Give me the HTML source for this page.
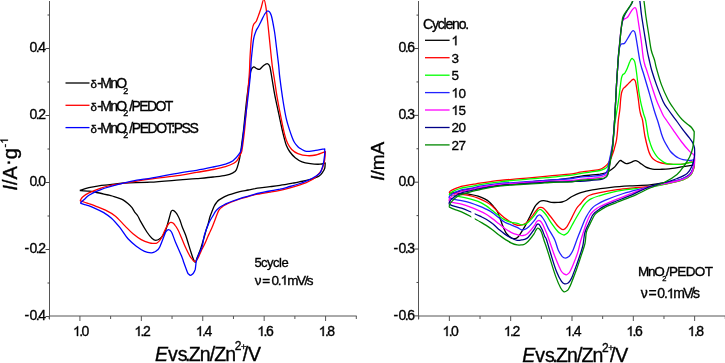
<!DOCTYPE html>
<html><head><meta charset="utf-8"><style>
html,body{margin:0;padding:0;background:#fff;}
svg{display:block;will-change:transform;}
text{font-family:"Liberation Sans",sans-serif;fill:#000;stroke:#000;stroke-width:0.35px;}
.tl{font-size:14px;letter-spacing:-1.5px;}
.ax{stroke:#555;stroke-width:1;}
.axx{stroke:#555;stroke-width:1;}
.tkx{stroke:#555;stroke-width:1;}
.tk{stroke:#444;stroke-width:1;}
.lg{font-size:14px;letter-spacing:-1.2px;}
.h{fill:none;stroke:none;}
.one{fill:#000;stroke:#000;stroke-width:0.35px;}
</style></head><body>
<svg width="725" height="363" viewBox="0 0 725 363">
<line x1="49.50" y1="1.00" x2="49.50" y2="319.50" class="ax"/>
<line x1="49.50" y1="316.00" x2="356.70" y2="316.00" class="axx"/>
<line x1="45.50" y1="48.50" x2="49.50" y2="48.50" class="tk"/>
<line x1="45.50" y1="115.50" x2="49.50" y2="115.50" class="tk"/>
<line x1="45.50" y1="182.50" x2="49.50" y2="182.50" class="tk"/>
<line x1="45.50" y1="249.50" x2="49.50" y2="249.50" class="tk"/>
<line x1="45.50" y1="316.50" x2="49.50" y2="316.50" class="tk"/>
<line x1="47.50" y1="15.00" x2="49.50" y2="15.00" class="tk"/>
<line x1="47.50" y1="82.00" x2="49.50" y2="82.00" class="tk"/>
<line x1="47.50" y1="149.00" x2="49.50" y2="149.00" class="tk"/>
<line x1="47.50" y1="216.00" x2="49.50" y2="216.00" class="tk"/>
<line x1="47.50" y1="283.00" x2="49.50" y2="283.00" class="tk"/>
<line x1="79.91" y1="316.00" x2="79.91" y2="321.00" class="tkx"/>
<line x1="141.33" y1="316.00" x2="141.33" y2="321.00" class="tkx"/>
<line x1="202.75" y1="316.00" x2="202.75" y2="321.00" class="tkx"/>
<line x1="264.17" y1="316.00" x2="264.17" y2="321.00" class="tkx"/>
<line x1="325.59" y1="316.00" x2="325.59" y2="321.00" class="tkx"/>
<line x1="49.20" y1="316.00" x2="49.20" y2="319.00" class="tkx"/>
<line x1="110.62" y1="316.00" x2="110.62" y2="319.00" class="tkx"/>
<line x1="172.04" y1="316.00" x2="172.04" y2="319.00" class="tkx"/>
<line x1="233.46" y1="316.00" x2="233.46" y2="319.00" class="tkx"/>
<line x1="294.88" y1="316.00" x2="294.88" y2="319.00" class="tkx"/>
<line x1="356.30" y1="316.00" x2="356.30" y2="319.00" class="tkx"/>
<line x1="418.50" y1="1.00" x2="418.50" y2="319.50" class="ax"/>
<line x1="418.50" y1="316.00" x2="725.70" y2="316.00" class="axx"/>
<line x1="414.50" y1="48.52" x2="418.50" y2="48.52" class="tk"/>
<line x1="414.50" y1="115.36" x2="418.50" y2="115.36" class="tk"/>
<line x1="414.50" y1="182.20" x2="418.50" y2="182.20" class="tk"/>
<line x1="414.50" y1="249.04" x2="418.50" y2="249.04" class="tk"/>
<line x1="414.50" y1="315.88" x2="418.50" y2="315.88" class="tk"/>
<line x1="416.50" y1="15.10" x2="418.50" y2="15.10" class="tk"/>
<line x1="416.50" y1="81.94" x2="418.50" y2="81.94" class="tk"/>
<line x1="416.50" y1="148.78" x2="418.50" y2="148.78" class="tk"/>
<line x1="416.50" y1="215.62" x2="418.50" y2="215.62" class="tk"/>
<line x1="416.50" y1="282.46" x2="418.50" y2="282.46" class="tk"/>
<line x1="449.36" y1="316.00" x2="449.36" y2="321.00" class="tkx"/>
<line x1="510.68" y1="316.00" x2="510.68" y2="321.00" class="tkx"/>
<line x1="572.00" y1="316.00" x2="572.00" y2="321.00" class="tkx"/>
<line x1="633.32" y1="316.00" x2="633.32" y2="321.00" class="tkx"/>
<line x1="694.64" y1="316.00" x2="694.64" y2="321.00" class="tkx"/>
<line x1="418.70" y1="316.00" x2="418.70" y2="319.00" class="tkx"/>
<line x1="480.02" y1="316.00" x2="480.02" y2="319.00" class="tkx"/>
<line x1="541.34" y1="316.00" x2="541.34" y2="319.00" class="tkx"/>
<line x1="602.66" y1="316.00" x2="602.66" y2="319.00" class="tkx"/>
<line x1="663.98" y1="316.00" x2="663.98" y2="319.00" class="tkx"/>
<line x1="725.30" y1="316.00" x2="725.30" y2="319.00" class="tkx"/>
<defs><clipPath id="cr"><rect x="419" y="1.1" width="306" height="320"/></clipPath></defs>
<g fill="none" stroke-width="1.3" stroke-linejoin="round">
<path d="M79.8,190.5 C81.3,190.0 85.7,188.5 88.9,187.7 C92.1,186.9 95.3,186.4 98.8,185.9 C102.3,185.4 105.7,185.2 110.0,184.7 C114.3,184.2 117.9,183.4 124.6,183.0 C131.3,182.6 140.8,182.7 150.0,182.2 C159.2,181.7 172.2,180.5 180.0,179.9 C187.8,179.3 191.1,179.1 196.6,178.6 C202.1,178.1 208.3,177.6 213.1,177.0 C217.9,176.4 222.2,176.0 225.5,175.3 C228.8,174.6 231.2,173.7 233.0,172.8 C234.8,171.9 235.3,171.7 236.3,169.9 C237.3,168.1 238.1,164.7 238.8,162.0 C239.5,159.3 240.0,156.3 240.5,153.5 C241.0,150.7 241.1,149.0 241.6,145.0 C242.1,141.0 242.8,136.2 243.6,129.5 C244.3,122.8 245.3,112.2 246.1,104.7 C246.9,97.2 247.8,90.4 248.6,84.8 C249.4,79.2 250.0,74.0 250.8,71.0 C251.6,68.0 252.7,67.3 253.6,66.9 C254.5,66.5 255.5,68.1 256.5,68.5 C257.5,68.9 258.4,69.7 259.5,69.3 C260.6,68.9 261.7,67.0 263.0,66.1 C264.3,65.1 266.1,63.5 267.2,63.6 C268.3,63.7 269.0,63.8 269.8,66.5 C270.6,69.2 271.4,75.2 272.2,79.9 C273.0,84.6 273.7,89.3 274.7,94.7 C275.7,100.1 277.2,106.3 278.4,112.1 C279.6,117.9 281.1,125.2 282.1,129.5 C283.1,133.8 283.5,135.4 284.2,138.0 C284.9,140.6 285.3,142.8 286.2,145.0 C287.1,147.2 288.1,149.4 289.6,151.5 C291.1,153.6 293.1,156.0 295.2,157.7 C297.3,159.4 299.5,160.9 302.0,161.9 C304.5,162.9 307.3,163.3 310.3,163.7 C313.3,164.1 317.5,164.3 320.0,164.2 C322.5,164.1 324.3,163.2 325.2,163.0 C325.1,163.8 325.2,166.5 324.8,168.0 C324.4,169.5 323.7,170.8 322.7,172.2 C321.7,173.6 321.1,175.0 318.6,176.3 C316.1,177.6 310.6,179.3 307.5,180.2 C304.4,181.1 302.3,181.2 300.0,181.7 C297.7,182.2 297.1,182.4 293.8,183.0 C290.5,183.6 284.0,184.8 280.0,185.4 C276.0,186.0 273.3,186.3 270.0,186.7 C266.7,187.1 262.5,187.6 260.0,187.9 C257.5,188.2 257.0,188.3 255.0,188.7 C253.0,189.0 250.6,189.5 248.1,190.0 C245.6,190.5 242.6,190.9 239.8,191.6 C237.0,192.3 233.6,193.4 231.5,194.1 C229.4,194.8 228.4,195.0 227.0,195.6 C225.6,196.2 224.6,196.7 223.3,197.4 C222.0,198.1 220.2,199.1 219.1,199.9 C218.0,200.7 217.4,201.4 216.6,202.4 C215.8,203.4 214.9,204.5 214.1,206.2 C213.3,207.9 212.3,210.6 211.6,212.4 C210.9,214.2 210.4,215.2 209.8,217.3 C209.2,219.4 208.5,222.8 207.9,224.8 C207.3,226.8 206.8,227.8 206.3,229.5 C205.8,231.2 205.7,232.0 204.8,235.0 C203.9,238.0 202.1,244.3 201.1,247.4 C200.1,250.5 199.4,251.8 198.8,253.5 C198.2,255.2 197.7,256.1 197.3,257.3 C196.9,258.5 196.5,259.7 196.2,260.5 C195.9,261.3 195.7,262.0 195.4,262.2 C195.1,262.4 194.8,261.9 194.5,261.5 C194.2,261.1 194.0,260.9 193.6,259.8 C193.2,258.7 192.6,257.3 191.8,254.8 C191.0,252.3 189.7,248.2 188.7,244.9 C187.7,241.6 186.7,238.1 185.6,235.0 C184.5,231.9 183.1,229.1 182.1,226.5 C181.1,223.9 180.6,221.6 179.8,219.7 C179.0,217.8 178.2,216.3 177.5,215.0 C176.8,213.7 175.9,212.7 175.3,212.0 C174.7,211.3 174.2,210.9 173.7,210.6 C173.2,210.3 172.8,210.2 172.3,210.4 C171.9,210.6 171.5,210.5 171.0,211.8 C170.5,213.1 170.0,215.4 169.2,218.2 C168.4,221.0 167.0,226.3 166.2,228.8 C165.4,231.3 165.3,231.5 164.4,233.1 C163.5,234.7 161.9,237.1 160.5,238.3 C159.1,239.5 157.2,240.3 155.8,240.3 C154.4,240.3 153.4,239.6 151.9,238.2 C150.4,236.8 148.8,234.9 146.9,232.0 C145.0,229.1 141.8,223.6 140.3,220.9 C138.8,218.2 138.8,217.5 137.8,216.0 C136.8,214.5 135.5,213.2 134.5,211.8 C133.5,210.4 133.1,209.1 132.0,207.7 C130.9,206.3 129.4,204.9 127.9,203.6 C126.4,202.3 124.7,200.9 123.0,199.9 C121.3,198.9 119.8,198.5 118.0,197.8 C116.2,197.2 113.8,196.5 112.2,196.0 C110.6,195.5 110.0,195.4 108.2,195.0 C106.4,194.6 103.8,194.0 101.6,193.5 C99.4,193.0 97.1,192.6 95.0,192.2 C92.9,191.8 91.4,191.5 88.9,191.2 C86.4,190.9 81.3,190.6 79.8,190.5" stroke="#000"/>
<path d="M80.0,200.8 C80.5,200.1 81.4,198.1 82.9,196.8 C84.4,195.5 86.2,194.2 88.9,192.9 C91.6,191.6 95.3,190.1 98.8,188.9 C102.3,187.7 103.6,186.9 110.0,185.6 C116.4,184.3 130.3,182.3 137.0,181.2 C143.7,180.1 142.8,180.0 150.0,179.0 C157.2,178.0 172.2,176.4 180.0,175.3 C187.8,174.2 191.1,173.4 196.6,172.4 C202.1,171.4 208.3,170.5 213.1,169.5 C217.9,168.5 222.1,167.6 225.5,166.6 C228.9,165.6 231.8,164.4 233.8,163.3 C235.8,162.2 236.3,161.5 237.3,160.2 C238.3,158.9 239.0,156.9 239.7,155.5 C240.4,154.1 241.1,153.6 241.7,151.5 C242.2,149.4 242.5,147.1 243.0,143.0 C243.5,138.9 244.2,134.6 244.9,127.0 C245.6,119.4 246.7,106.3 247.4,97.2 C248.2,88.1 249.0,79.0 249.4,72.4 C249.8,65.8 249.7,63.0 250.0,57.8 C250.3,52.6 250.7,46.0 251.1,41.3 C251.5,36.6 251.9,32.4 252.3,29.5 C252.7,26.6 253.0,25.6 253.7,24.2 C254.4,22.8 255.5,22.6 256.3,21.2 C257.1,19.8 257.7,17.6 258.5,15.5 C259.3,13.4 260.1,11.0 261.0,8.3 C261.9,5.6 262.9,-0.6 263.8,-0.6 C264.7,-0.6 265.4,3.7 266.1,8.3 C266.8,12.9 267.5,20.3 268.2,26.8 C268.9,33.3 269.6,41.0 270.3,47.5 C271.0,54.0 271.6,60.6 272.3,66.0 C273.0,71.4 273.7,74.8 274.5,80.0 C275.3,85.2 276.0,91.0 277.1,97.2 C278.2,103.4 279.6,110.9 280.9,117.1 C282.1,123.3 283.5,130.0 284.6,134.4 C285.7,138.8 286.4,140.8 287.6,143.3 C288.8,145.8 290.0,147.8 291.7,149.5 C293.4,151.2 295.3,152.6 297.9,153.6 C300.5,154.6 304.5,155.5 307.5,155.7 C310.5,155.9 312.8,155.7 315.8,155.0 C318.8,154.3 323.8,152.2 325.4,151.6 C325.3,152.5 325.2,155.1 325.0,157.0 C324.8,158.9 324.6,160.9 324.0,163.2 C323.4,165.5 322.6,168.6 321.1,170.9 C319.7,173.2 317.0,175.6 315.3,177.2 C313.6,178.8 312.6,179.4 311.0,180.3 C309.4,181.2 307.8,181.9 306.0,182.7 C304.2,183.4 302.7,184.0 300.0,184.8 C297.3,185.7 293.3,186.9 290.0,187.8 C286.7,188.7 283.3,189.6 280.0,190.3 C276.7,191.0 273.3,191.6 270.0,192.2 C266.7,192.8 262.5,193.4 260.0,193.8 C257.5,194.2 257.0,194.1 255.0,194.6 C253.0,195.1 250.6,195.9 248.1,196.6 C245.6,197.3 242.6,198.1 239.8,199.0 C237.0,199.9 233.6,201.2 231.5,202.0 C229.4,202.8 228.4,203.3 227.0,204.0 C225.6,204.7 224.6,205.1 223.3,206.1 C222.0,207.1 220.2,208.2 219.1,209.8 C218.0,211.4 217.4,213.5 216.6,215.6 C215.8,217.7 214.9,220.2 214.1,222.3 C213.3,224.5 212.4,226.7 211.6,228.5 C210.8,230.3 210.1,231.7 209.5,233.0 C208.9,234.3 208.7,234.7 207.9,236.5 C207.1,238.3 205.9,241.3 204.8,243.7 C203.7,246.1 202.1,249.0 201.1,251.1 C200.1,253.2 199.4,255.2 198.8,256.5 C198.2,257.9 197.9,258.4 197.3,259.2 C196.7,260.0 196.0,261.2 195.4,261.5 C194.8,261.8 194.2,261.4 193.6,261.0 C193.0,260.6 192.6,259.6 192.0,258.8 C191.4,258.0 191.1,258.2 189.9,256.1 C188.7,254.0 186.7,249.9 185.0,246.2 C183.3,242.5 181.2,236.9 179.9,234.0 C178.7,231.1 178.3,230.4 177.5,229.0 C176.7,227.6 176.1,226.6 175.3,225.6 C174.6,224.6 173.8,223.6 173.0,223.0 C172.2,222.4 171.5,222.2 170.8,222.3 C170.1,222.4 169.4,223.0 168.7,223.8 C168.0,224.6 167.4,225.4 166.5,227.0 C165.6,228.6 164.5,231.4 163.5,233.5 C162.5,235.6 161.6,237.9 160.5,239.5 C159.4,241.1 158.2,242.3 157.0,243.0 C155.8,243.7 154.2,243.4 153.0,243.4 C151.8,243.4 151.5,243.5 149.5,242.9 C147.5,242.3 143.9,241.1 141.2,239.6 C138.4,238.1 135.8,236.1 133.0,233.8 C130.2,231.5 127.7,228.6 124.7,225.6 C121.7,222.6 118.1,218.3 114.8,215.7 C111.5,213.1 108.2,211.6 104.9,209.9 C101.6,208.2 97.7,206.9 95.0,205.8 C92.3,204.7 90.3,204.1 88.5,203.5 C86.7,202.9 85.3,202.4 83.9,202.0 C82.5,201.6 80.7,201.0 80.0,200.8" stroke="#f00"/>
<path d="M80.2,202.8 C80.8,202.3 82.5,201.1 83.9,199.8 C85.4,198.6 86.4,196.9 88.9,195.3 C91.4,193.7 95.3,191.8 98.8,190.4 C102.3,189.0 103.6,188.4 110.0,186.7 C116.4,185.0 130.3,181.6 137.0,180.2 C143.7,178.8 142.8,179.5 150.0,178.3 C157.2,177.1 172.2,174.1 180.0,172.8 C187.8,171.5 191.1,171.3 196.6,170.3 C202.1,169.3 208.3,168.0 213.1,167.0 C217.9,166.0 222.2,165.1 225.5,164.1 C228.8,163.1 230.8,162.5 233.0,160.8 C235.2,159.1 237.6,156.2 239.0,154.1 C240.4,152.0 240.7,152.2 241.5,148.5 C242.3,144.8 242.6,139.7 243.6,132.0 C244.6,124.3 246.3,111.5 247.4,102.2 C248.5,92.9 249.7,82.7 250.3,76.0 C250.9,69.3 250.8,66.3 251.1,61.9 C251.4,57.5 251.9,53.5 252.3,49.6 C252.7,45.7 253.1,41.5 253.7,38.5 C254.3,35.5 255.0,33.5 255.8,31.5 C256.6,29.5 257.6,28.2 258.5,26.5 C259.4,24.8 259.9,23.7 261.0,21.5 C262.1,19.3 263.9,15.2 265.1,13.5 C266.3,11.8 267.2,10.7 268.2,11.0 C269.2,11.3 270.3,12.2 271.3,15.5 C272.3,18.8 273.5,25.7 274.4,31.0 C275.3,36.3 275.8,42.0 276.5,47.5 C277.2,53.0 277.9,59.0 278.5,64.0 C279.1,69.0 279.0,71.0 279.8,77.4 C280.6,83.8 282.2,95.7 283.3,102.5 C284.4,109.3 285.2,113.9 286.2,118.3 C287.2,122.7 288.2,125.8 289.2,128.9 C290.2,132.0 291.1,134.7 292.0,137.0 C292.9,139.3 293.5,140.9 294.5,142.5 C295.5,144.1 296.6,145.5 297.9,146.7 C299.1,147.9 300.6,148.7 302.0,149.5 C303.4,150.3 304.1,151.1 306.2,151.3 C308.3,151.5 311.3,151.0 314.4,150.6 C317.5,150.2 323.0,149.1 324.7,148.8 C324.7,149.9 324.9,152.7 324.6,155.4 C324.3,158.1 323.8,162.2 323.0,165.1 C322.2,168.0 321.4,170.9 320.1,172.8 C318.8,174.7 316.8,175.5 315.3,176.5 C313.8,177.5 312.6,178.2 311.0,179.0 C309.4,179.8 307.8,180.4 306.0,181.2 C304.2,181.9 302.7,182.6 300.0,183.5 C297.3,184.4 293.3,185.6 290.0,186.5 C286.7,187.4 283.3,188.4 280.0,189.2 C276.7,189.9 273.3,190.4 270.0,191.0 C266.7,191.6 262.5,192.5 260.0,193.0 C257.5,193.5 257.0,193.6 255.0,194.1 C253.0,194.6 250.6,195.4 248.1,196.2 C245.6,196.9 242.6,197.7 239.8,198.6 C237.0,199.5 233.6,200.7 231.5,201.5 C229.4,202.3 228.4,202.7 227.0,203.3 C225.6,203.9 224.6,204.5 223.3,205.2 C222.0,205.9 220.4,206.7 219.1,207.7 C217.8,208.7 216.5,210.0 215.5,211.3 C214.5,212.7 214.0,214.0 212.9,215.8 C211.8,217.6 210.2,220.2 209.2,222.3 C208.2,224.4 207.5,226.2 206.7,228.5 C205.9,230.8 204.9,233.0 204.2,235.9 C203.5,238.8 202.9,243.8 202.3,246.2 C201.7,248.6 201.1,249.1 200.5,250.5 C199.9,251.9 199.2,253.3 198.6,254.8 C198.0,256.3 197.2,258.2 196.8,259.5 C196.4,260.8 196.3,261.2 196.1,262.3 C195.9,263.4 195.8,264.8 195.7,266.0 C195.5,267.2 195.5,268.4 195.2,269.5 C194.8,270.6 194.1,272.0 193.6,272.8 C193.1,273.6 192.5,274.1 192.0,274.5 C191.5,274.9 191.0,275.3 190.5,275.3 C190.0,275.3 189.3,274.8 188.8,274.3 C188.3,273.8 188.2,274.2 187.4,272.2 C186.6,270.2 184.6,264.8 183.7,262.3 C182.8,259.8 183.5,260.8 182.1,257.4 C180.7,254.0 177.2,246.1 175.4,241.9 C173.6,237.7 172.7,234.1 171.5,232.0 C170.3,229.9 169.4,229.7 168.5,229.6 C167.6,229.5 166.7,230.6 166.0,231.5 C165.3,232.4 165.4,232.8 164.4,235.3 C163.4,237.8 161.1,244.1 160.0,246.5 C158.9,248.9 158.6,248.9 157.7,249.8 C156.8,250.7 155.6,251.5 154.5,252.0 C153.4,252.5 152.8,252.9 151.1,252.8 C149.4,252.7 147.0,252.4 144.5,251.3 C142.0,250.2 139.1,248.3 136.3,246.2 C133.6,244.1 130.8,241.9 128.0,238.8 C125.2,235.7 122.5,230.8 119.8,227.4 C117.0,224.0 114.2,220.7 111.5,218.2 C108.8,215.7 106.0,214.1 103.3,212.4 C100.5,210.8 97.5,209.4 95.0,208.3 C92.5,207.2 90.3,206.3 88.5,205.6 C86.7,204.9 85.3,204.8 83.9,204.3 C82.5,203.8 80.8,203.1 80.2,202.8" stroke="#00f"/>
<g clip-path="url(#cr)"><path d="M449.0,193.5 C450.5,193.2 454.5,192.6 458.0,191.8 C461.5,191.1 465.3,189.9 470.0,189.0 C474.7,188.1 481.0,187.3 486.0,186.6 C491.0,185.9 494.3,185.6 500.0,185.0 C505.7,184.4 513.3,183.7 520.0,183.0 C526.7,182.3 533.3,181.6 540.0,181.0 C546.7,180.4 555.0,179.8 560.0,179.3 C565.0,178.8 566.7,178.6 570.0,178.1 C573.3,177.6 576.7,176.8 580.0,176.3 C583.3,175.8 586.7,175.5 590.0,175.2 C593.3,174.8 597.5,174.5 600.0,174.2 C602.5,173.8 603.5,173.6 605.0,173.1 C606.5,172.6 607.4,172.1 608.9,171.2 C610.4,170.3 612.4,168.9 613.7,167.8 C615.0,166.7 615.7,165.6 616.6,164.5 C617.5,163.4 618.6,161.8 619.3,161.1 C620.0,160.4 620.3,160.4 620.9,160.5 C621.5,160.6 622.0,161.3 622.8,161.8 C623.6,162.3 624.7,163.0 625.5,163.3 C626.3,163.6 626.8,163.7 627.8,163.5 C628.8,163.3 630.4,162.6 631.6,162.1 C632.9,161.6 634.2,160.6 635.3,160.6 C636.4,160.6 637.4,161.2 638.4,161.8 C639.4,162.4 640.1,163.1 641.4,164.0 C642.7,164.9 644.5,166.3 646.0,167.1 C647.5,167.9 649.1,168.2 650.5,168.6 C651.9,169.0 652.7,169.2 654.3,169.3 C655.9,169.4 657.5,169.4 660.0,169.3 C662.5,169.2 665.7,169.2 669.0,168.8 C672.3,168.5 676.8,167.7 680.0,167.2 C683.2,166.7 685.9,166.3 688.3,165.9 C690.7,165.5 693.3,165.2 694.3,165.0 C694.0,165.8 693.4,168.3 692.5,170.0 C691.6,171.7 690.9,173.4 689.0,175.0 C687.1,176.6 684.7,178.3 681.0,179.5 C677.3,180.7 672.2,181.4 667.0,182.3 C661.8,183.2 656.2,184.2 650.0,184.8 C643.8,185.4 636.1,185.5 629.6,185.9 C623.1,186.3 617.2,186.7 611.0,187.3 C604.8,188.0 597.6,188.9 592.4,189.8 C587.2,190.7 583.4,191.8 580.0,192.9 C576.6,194.0 574.2,195.3 572.0,196.5 C569.8,197.7 568.2,199.4 566.5,200.3 C564.8,201.2 563.4,201.7 562.0,202.0 C560.6,202.3 559.8,202.3 558.0,202.4 C556.2,202.5 553.2,202.6 551.4,202.4 C549.6,202.2 548.3,201.5 547.0,201.2 C545.7,200.9 544.7,200.6 543.5,200.7 C542.3,200.8 540.9,200.9 539.8,201.5 C538.7,202.1 537.8,203.2 537.0,204.0 C536.2,204.8 536.1,204.5 534.9,206.6 C533.7,208.7 531.6,213.2 529.9,216.5 C528.2,219.8 526.5,223.4 524.9,226.4 C523.2,229.4 521.2,232.5 520.0,234.3 C518.8,236.2 518.3,236.8 517.5,237.5 C516.7,238.2 516.1,238.4 515.3,238.6 C514.5,238.8 513.5,238.8 512.5,238.4 C511.5,238.1 510.5,237.3 509.5,236.5 C508.5,235.7 507.2,234.4 506.4,233.4 C505.6,232.4 505.5,231.9 504.8,230.5 C504.1,229.1 503.1,227.0 502.3,224.8 C501.5,222.6 500.7,219.8 499.8,217.4 C498.9,215.0 497.8,212.3 496.8,210.5 C495.8,208.7 495.0,208.2 493.8,206.8 C492.6,205.4 491.1,203.5 489.6,202.2 C488.1,200.9 486.6,199.9 484.7,198.9 C482.8,197.9 480.6,196.9 478.1,196.1 C475.6,195.3 472.3,194.7 469.8,194.3 C467.3,193.9 465.5,193.8 463.2,193.6 C460.9,193.4 458.4,193.3 456.0,193.3 C453.6,193.3 450.2,193.5 449.0,193.5" stroke="#000"/>
<path d="M449.0,192.7 C449.2,192.4 449.7,191.6 450.5,191.0 C451.3,190.4 452.4,189.8 454.0,189.1 C455.6,188.4 458.3,187.4 460.0,186.9 C461.7,186.4 461.7,186.2 464.0,185.8 C466.3,185.4 471.3,184.6 474.0,184.2 C476.7,183.8 475.7,183.7 480.0,183.1 C484.3,182.5 493.3,181.1 500.0,180.4 C506.7,179.7 513.3,179.3 520.0,178.7 C526.7,178.1 535.0,177.3 540.0,176.8 C545.0,176.3 544.7,176.4 550.0,175.9 C555.3,175.4 567.0,174.4 572.0,173.8 C577.0,173.2 577.0,172.7 580.0,172.2 C583.0,171.7 586.7,171.3 590.0,170.8 C593.3,170.3 597.7,169.9 600.0,169.3 C602.3,168.7 602.8,168.2 604.0,167.3 C605.2,166.4 606.5,165.3 607.5,164.1 C608.5,162.9 609.3,161.6 610.0,160.3 C610.7,159.0 611.2,157.8 611.7,156.5 C612.2,155.2 612.8,153.7 613.2,152.3 C613.7,150.9 613.9,150.4 614.4,148.3 C614.9,146.2 616.0,143.1 616.5,140.0 C617.0,136.9 617.3,133.3 617.6,130.0 C617.9,126.7 618.0,123.3 618.4,120.0 C618.8,116.7 619.4,113.3 619.8,110.0 C620.2,106.7 620.3,102.8 620.6,100.0 C620.9,97.2 621.1,94.8 621.5,93.0 C621.9,91.2 622.5,90.0 623.0,89.0 C623.5,88.0 624.1,87.9 624.8,87.2 C625.5,86.5 626.3,85.7 627.3,84.7 C628.3,83.7 629.7,82.2 630.6,81.4 C631.5,80.6 632.0,79.9 632.5,79.6 C633.0,79.3 633.4,79.1 633.9,79.4 C634.4,79.7 635.0,79.6 635.5,81.6 C636.0,83.6 636.7,88.1 637.2,91.3 C637.7,94.5 638.1,97.4 638.5,100.5 C638.9,103.6 639.3,107.5 639.7,110.0 C640.1,112.5 640.5,113.8 641.0,115.5 C641.5,117.2 641.8,116.5 642.5,120.0 C643.2,123.5 644.0,131.5 645.0,136.5 C646.0,141.5 647.4,146.8 648.3,150.0 C649.2,153.2 649.7,154.0 650.5,155.5 C651.3,157.0 652.1,158.0 653.2,159.0 C654.3,160.0 655.6,160.8 657.0,161.5 C658.4,162.2 658.8,162.5 661.5,163.0 C664.2,163.5 669.2,164.2 673.1,164.3 C677.0,164.4 681.6,164.2 684.6,163.8 C687.6,163.4 689.6,162.1 691.2,162.0 C692.9,161.9 694.0,163.2 694.5,163.5 C694.4,164.3 694.4,166.6 693.8,168.5 C693.2,170.4 692.5,172.9 690.8,174.8 C689.1,176.7 686.7,178.4 683.4,179.7 C680.1,181.0 676.2,181.7 671.0,182.8 C665.8,183.9 658.3,185.4 652.4,186.2 C646.5,187.0 641.7,187.0 635.8,187.6 C629.9,188.2 623.4,188.7 617.2,189.6 C611.0,190.5 603.3,191.9 598.6,192.9 C593.9,193.9 591.3,194.6 589.0,195.5 C586.7,196.4 586.4,197.2 585.0,198.5 C583.6,199.8 582.2,201.8 580.8,203.5 C579.4,205.2 578.0,206.1 576.5,208.5 C575.0,210.9 573.2,215.0 571.6,218.1 C570.0,221.2 568.0,225.3 566.6,227.2 C565.2,229.1 564.4,229.6 563.3,229.7 C562.2,229.8 561.1,228.9 560.0,228.0 C558.9,227.1 557.6,225.9 556.5,224.5 C555.4,223.1 554.8,222.0 553.1,219.8 C551.4,217.6 548.1,213.4 546.5,211.5 C544.9,209.6 544.4,209.0 543.5,208.3 C542.6,207.6 541.9,207.4 541.0,207.4 C540.1,207.4 539.5,207.0 538.2,208.2 C536.9,209.4 535.1,212.4 533.2,214.8 C531.3,217.2 528.8,221.0 526.6,222.8 C524.4,224.6 521.9,225.1 520.0,225.4 C518.1,225.7 516.4,225.0 515.0,224.5 C513.6,224.0 512.8,223.1 511.5,222.3 C510.2,221.5 509.0,221.1 507.3,219.9 C505.6,218.7 503.0,216.6 501.1,214.9 C499.2,213.2 497.7,211.6 496.1,210.0 C494.5,208.4 492.9,206.6 491.3,205.3 C489.7,204.0 488.5,203.2 486.3,202.0 C484.1,200.8 480.9,199.2 478.1,198.1 C475.4,197.0 472.6,196.2 469.8,195.6 C467.0,195.0 464.0,194.8 461.5,194.5 C459.0,194.2 457.1,193.9 455.0,193.6 C452.9,193.3 450.0,192.8 449.0,192.7" stroke="#f00"/>
<path d="M449.0,194.9 C449.2,194.6 449.7,193.7 450.5,193.0 C451.3,192.3 452.4,191.7 454.0,190.9 C455.6,190.2 458.3,189.1 460.0,188.5 C461.7,187.9 461.7,187.9 464.0,187.5 C466.3,187.1 471.3,186.4 474.0,185.9 C476.7,185.4 475.7,185.3 480.0,184.6 C484.3,183.9 493.3,182.6 500.0,181.8 C506.7,181.0 513.3,180.4 520.0,179.8 C526.7,179.2 535.0,178.6 540.0,178.2 C545.0,177.8 544.7,177.8 550.0,177.3 C555.3,176.8 567.0,175.8 572.0,175.2 C577.0,174.6 577.0,174.1 580.0,173.6 C583.0,173.1 586.7,172.6 590.0,172.1 C593.3,171.6 597.5,171.1 600.0,170.5 C602.5,169.9 603.8,169.3 605.0,168.6 C606.2,167.9 606.8,167.6 607.5,166.4 C608.2,165.2 609.0,163.3 609.5,161.5 C610.0,159.7 610.4,157.5 610.8,155.5 C611.2,153.5 611.5,151.8 611.9,149.5 C612.3,147.2 612.7,145.9 613.1,142.0 C613.5,138.1 613.9,131.3 614.5,126.0 C615.1,120.7 616.2,114.8 617.0,110.0 C617.8,105.2 618.4,101.5 619.0,97.0 C619.6,92.5 620.3,86.3 620.7,83.1 C621.1,79.8 621.2,78.9 621.6,77.5 C622.0,76.1 622.3,75.3 622.8,74.6 C623.3,73.9 624.0,74.2 624.8,73.1 C625.5,72.0 626.5,70.1 627.3,68.2 C628.1,66.3 629.1,63.3 629.8,61.8 C630.4,60.3 630.8,59.7 631.2,59.2 C631.6,58.7 631.8,58.2 632.4,58.6 C633.0,59.0 634.0,59.5 634.7,61.6 C635.4,63.8 635.7,66.5 636.4,71.5 C637.1,76.5 638.1,86.4 638.8,91.3 C639.5,96.2 640.0,98.2 640.5,101.0 C641.0,103.8 641.6,105.8 642.1,108.0 C642.6,110.2 643.2,112.3 643.8,114.5 C644.4,116.7 645.0,117.3 645.8,121.0 C646.5,124.7 647.5,132.6 648.3,136.5 C649.1,140.4 649.9,142.2 650.6,144.5 C651.4,146.8 651.8,148.1 652.8,150.0 C653.8,151.9 655.4,154.5 656.6,156.1 C657.8,157.7 658.8,158.6 660.0,159.6 C661.2,160.6 662.6,161.6 664.0,162.3 C665.4,163.0 665.2,163.5 668.1,163.8 C671.0,164.1 677.7,164.5 681.3,164.3 C684.9,164.1 687.4,162.9 689.6,162.6 C691.8,162.3 693.7,162.5 694.5,162.5 C694.3,163.5 694.1,166.4 693.5,168.5 C692.9,170.6 692.5,172.9 690.8,174.8 C689.1,176.7 686.7,178.4 683.4,179.7 C680.1,181.0 676.2,181.6 671.0,182.8 C665.8,184.0 657.6,185.7 652.4,186.8 C647.2,187.9 642.8,188.9 640.0,189.2 C637.2,189.5 639.6,188.3 635.8,188.6 C632.0,188.9 623.4,189.9 617.2,191.1 C611.0,192.3 603.0,194.7 598.6,196.0 C594.2,197.3 592.9,197.9 591.0,198.8 C589.1,199.7 588.7,200.3 587.5,201.3 C586.3,202.3 585.2,203.5 584.0,205.0 C582.8,206.5 582.3,207.5 580.5,210.5 C578.7,213.5 575.0,219.8 573.2,223.1 C571.4,226.3 570.5,228.3 569.5,230.0 C568.5,231.7 568.3,232.2 567.4,233.0 C566.5,233.8 565.2,234.9 564.1,235.0 C563.0,235.1 561.5,234.0 560.5,233.5 C559.5,233.0 559.5,233.5 558.0,231.8 C556.5,230.1 553.2,225.7 551.4,223.1 C549.6,220.5 548.1,217.8 547.0,216.2 C545.9,214.5 545.7,214.2 544.8,213.2 C543.9,212.2 542.3,210.6 541.5,210.0 C540.7,209.4 540.5,209.3 539.8,209.5 C539.1,209.7 538.3,210.1 537.5,211.0 C536.7,211.9 536.4,212.9 534.9,214.8 C533.4,216.7 529.9,220.7 528.2,222.3 C526.5,223.9 525.6,224.1 524.5,224.5 C523.4,224.9 522.8,225.1 521.6,224.9 C520.4,224.7 519.0,223.7 517.2,223.3 C515.4,222.9 513.1,222.9 511.0,222.3 C508.9,221.7 506.9,221.0 504.8,219.9 C502.7,218.8 500.7,217.2 498.6,215.6 C496.5,214.0 494.4,212.2 492.4,210.6 C490.3,209.0 488.7,207.4 486.3,205.9 C483.9,204.4 480.9,202.6 478.1,201.4 C475.4,200.2 473.1,199.7 469.8,198.9 C466.5,198.1 461.7,197.1 458.2,196.4 C454.7,195.7 450.5,195.2 449.0,194.9" stroke="#0f0"/>
<path d="M448.8,197.9 C449.0,197.5 449.3,196.3 450.2,195.5 C451.1,194.7 452.4,193.8 454.0,192.9 C455.6,192.1 458.3,191.0 460.0,190.4 C461.7,189.8 461.7,189.9 464.0,189.4 C466.3,188.9 471.3,188.2 474.0,187.6 C476.7,187.0 475.7,186.8 480.0,186.1 C484.3,185.4 493.3,184.1 500.0,183.4 C506.7,182.8 513.3,182.6 520.0,182.2 C526.7,181.8 535.0,181.2 540.0,180.9 C545.0,180.6 544.7,180.5 550.0,180.1 C555.3,179.7 567.0,179.0 572.0,178.5 C577.0,178.0 577.0,177.5 580.0,177.2 C583.0,176.8 586.7,176.7 590.0,176.4 C593.3,176.1 597.7,175.8 600.0,175.5 C602.3,175.2 603.0,174.8 604.0,174.3 C605.0,173.8 605.3,173.5 606.0,172.7 C606.7,171.9 607.5,171.0 608.0,169.3 C608.5,167.6 608.4,165.3 608.9,162.5 C609.4,159.7 610.3,156.2 611.0,152.5 C611.7,148.8 612.6,144.6 613.1,140.0 C613.6,135.4 613.9,130.0 614.3,125.0 C614.6,120.0 614.8,117.0 615.2,110.0 C615.6,103.0 616.1,91.1 616.6,83.1 C617.1,75.1 617.6,67.5 618.0,62.0 C618.4,56.5 618.5,52.9 619.0,50.0 C619.5,47.1 620.1,45.6 620.7,44.6 C621.3,43.6 621.8,44.1 622.5,43.8 C623.2,43.5 623.7,44.2 624.8,43.0 C625.9,41.8 627.8,38.2 628.9,36.4 C630.0,34.6 630.8,33.0 631.5,32.0 C632.2,31.0 632.6,30.6 633.1,30.6 C633.6,30.6 634.2,31.1 634.6,31.8 C635.0,32.5 634.9,31.7 635.5,34.7 C636.1,37.7 637.3,45.4 638.0,49.6 C638.7,53.8 639.1,56.9 639.7,60.0 C640.3,63.1 641.1,65.8 641.7,68.0 C642.3,70.2 642.4,69.9 643.5,73.5 C644.6,77.1 646.5,83.8 648.3,89.8 C650.0,95.8 652.5,104.7 654.0,109.7 C655.5,114.7 656.4,117.0 657.4,120.0 C658.4,123.0 659.1,125.7 659.8,128.0 C660.5,130.3 660.8,131.9 661.5,134.0 C662.2,136.1 663.0,138.4 664.0,140.5 C665.0,142.6 666.2,144.6 667.3,146.4 C668.4,148.2 669.3,150.0 670.5,151.5 C671.7,153.0 673.4,154.4 674.7,155.5 C676.0,156.6 677.1,157.3 678.5,158.0 C679.9,158.7 681.1,159.3 683.0,159.7 C684.9,160.1 687.8,160.5 689.6,160.5 C691.4,160.5 693.3,159.9 694.0,159.8 C694.0,160.3 693.9,161.8 693.8,163.0 C693.7,164.2 694.0,165.3 693.3,167.3 C692.6,169.3 691.9,172.7 689.6,174.8 C687.3,176.9 683.8,178.3 679.7,179.7 C675.6,181.1 671.1,181.7 664.8,183.2 C658.5,184.7 648.9,186.9 642.0,188.6 C635.1,190.3 629.6,191.5 623.4,193.5 C617.2,195.5 609.4,198.5 604.8,200.4 C600.2,202.3 598.1,203.8 596.0,205.0 C593.9,206.2 593.5,206.8 592.4,207.9 C591.3,209.0 590.4,210.2 589.5,211.5 C588.6,212.8 587.8,214.1 587.0,215.5 C586.2,216.9 586.3,216.3 584.8,219.8 C583.3,223.3 580.2,231.3 578.2,236.3 C576.2,241.3 574.4,246.9 573.1,249.9 C571.8,252.9 571.2,253.4 570.5,254.5 C569.8,255.6 569.7,256.0 568.9,256.6 C568.1,257.2 566.7,258.2 565.6,258.2 C564.5,258.2 563.5,258.0 562.3,256.6 C561.1,255.2 559.5,252.7 558.2,249.9 C556.9,247.1 556.4,243.3 554.7,239.7 C553.0,236.1 549.7,231.1 548.1,228.1 C546.5,225.1 546.0,223.3 545.0,221.5 C544.0,219.7 543.0,218.3 542.3,217.3 C541.5,216.3 541.0,215.7 540.5,215.3 C540.0,214.9 539.6,214.8 539.0,215.0 C538.4,215.2 537.7,215.7 537.0,216.5 C536.3,217.3 536.4,218.0 534.9,219.8 C533.4,221.6 529.9,225.7 528.2,227.3 C526.5,228.9 525.6,229.1 524.5,229.5 C523.4,229.9 522.8,230.3 521.6,229.9 C520.4,229.5 519.0,228.2 517.2,227.3 C515.4,226.5 513.1,225.6 511.0,224.8 C508.9,224.0 506.9,223.5 504.8,222.3 C502.7,221.1 500.7,219.2 498.6,217.6 C496.5,216.0 494.5,214.0 492.4,212.6 C490.3,211.2 488.3,210.2 486.2,209.2 C484.1,208.2 482.7,207.5 480.0,206.4 C477.3,205.3 472.9,203.6 469.8,202.6 C466.7,201.6 464.1,201.1 461.5,200.6 C458.9,200.1 456.0,199.8 453.9,199.3 C451.8,198.9 449.6,198.1 448.8,197.9" stroke="#22f"/>
<path d="M448.8,200.8 C449.1,200.3 449.4,198.8 450.3,197.8 C451.2,196.8 452.4,195.7 454.0,194.7 C455.6,193.7 458.3,192.6 460.0,192.0 C461.7,191.4 461.7,191.4 464.0,190.9 C466.3,190.4 471.3,189.4 474.0,188.8 C476.7,188.2 475.7,188.2 480.0,187.4 C484.3,186.7 493.3,185.0 500.0,184.3 C506.7,183.6 513.3,183.4 520.0,183.0 C526.7,182.6 535.0,181.9 540.0,181.6 C545.0,181.3 544.7,181.4 550.0,181.2 C555.3,181.0 567.0,180.6 572.0,180.3 C577.0,180.0 576.2,179.8 580.0,179.4 C583.8,179.0 591.2,178.4 594.5,178.0 C597.8,177.6 598.4,177.5 600.0,177.2 C601.6,176.9 602.9,176.5 604.1,176.0 C605.3,175.5 606.2,175.2 607.0,174.1 C607.8,173.0 608.3,172.0 608.9,169.3 C609.5,166.6 610.0,161.5 610.6,158.0 C611.2,154.5 611.9,151.3 612.3,148.3 C612.7,145.3 612.8,143.9 613.1,140.0 C613.4,136.1 613.9,130.0 614.3,125.0 C614.6,120.0 614.8,117.0 615.2,110.0 C615.6,103.0 616.1,91.1 616.6,83.1 C617.1,75.1 617.6,67.5 618.0,62.0 C618.4,56.5 618.6,54.2 619.0,50.0 C619.4,45.8 619.8,41.2 620.2,37.0 C620.6,32.8 621.1,27.5 621.5,24.8 C621.9,22.1 622.2,21.9 622.6,21.0 C623.0,20.1 623.4,19.7 624.0,19.2 C624.6,18.7 625.3,18.6 626.0,18.2 C626.7,17.8 627.1,17.9 628.1,16.5 C629.1,15.1 631.1,11.4 632.2,9.9 C633.3,8.4 634.0,7.6 634.7,7.6 C635.4,7.6 635.7,7.0 636.4,9.9 C637.1,12.8 638.0,19.6 638.8,24.8 C639.6,30.0 640.5,35.8 641.3,41.3 C642.0,46.8 642.7,54.0 643.3,58.0 C643.9,62.0 644.5,63.5 645.0,65.5 C645.5,67.5 645.4,66.2 646.6,70.0 C647.8,73.8 650.8,83.4 652.4,88.2 C654.0,93.0 654.8,95.7 656.0,99.0 C657.2,102.3 658.5,105.2 659.8,108.0 C661.0,110.8 662.2,113.8 663.5,116.0 C664.8,118.2 665.7,119.2 667.3,121.5 C668.9,123.8 670.8,126.6 673.1,129.9 C675.4,133.2 678.5,137.9 681.3,141.5 C684.0,145.1 687.7,149.3 689.6,151.4 C691.5,153.5 692.1,153.1 692.9,153.9 C693.7,154.7 694.2,155.7 694.5,156.0 C694.5,157.1 694.9,159.7 694.5,162.4 C694.1,165.1 693.2,169.8 692.0,172.3 C690.8,174.8 689.6,175.9 687.1,177.3 C684.6,178.8 681.7,179.8 677.2,181.0 C672.7,182.2 665.5,183.2 660.0,184.5 C654.5,185.8 649.5,187.0 644.4,188.6 C639.3,190.2 635.2,192.0 629.6,194.2 C624.0,196.4 615.9,199.5 611.0,201.6 C606.1,203.7 602.5,205.3 600.0,206.5 C597.5,207.7 597.4,208.1 596.1,209.0 C594.9,209.9 593.5,210.9 592.5,212.0 C591.5,213.1 590.8,213.7 589.8,215.5 C588.8,217.3 587.6,220.1 586.5,223.0 C585.4,225.9 584.1,229.9 583.1,233.0 C582.1,236.1 581.4,238.4 580.5,241.5 C579.6,244.6 579.2,247.7 578.0,251.6 C576.8,255.5 574.4,261.7 573.1,264.8 C571.9,267.9 571.2,269.1 570.5,270.5 C569.8,271.9 569.6,272.4 568.9,273.1 C568.2,273.8 567.3,274.7 566.5,274.8 C565.7,274.9 564.8,274.4 564.0,273.9 C563.2,273.3 562.2,272.5 561.5,271.5 C560.8,270.5 560.9,270.6 559.8,268.1 C558.7,265.6 556.7,261.3 554.9,256.6 C553.1,251.9 550.5,243.9 549.1,240.0 C547.7,236.1 547.4,235.3 546.5,233.0 C545.6,230.7 544.3,227.8 543.5,226.0 C542.7,224.2 542.2,223.2 541.5,222.3 C540.8,221.4 540.1,221.0 539.5,220.7 C538.9,220.4 538.5,220.4 538.0,220.6 C537.5,220.8 536.7,221.4 536.2,222.1 C535.7,222.8 536.2,223.0 534.9,224.8 C533.6,226.6 529.9,231.3 528.2,233.0 C526.5,234.7 525.6,234.8 524.5,235.2 C523.4,235.6 522.8,235.8 521.6,235.7 C520.4,235.6 519.0,235.3 517.2,234.7 C515.4,234.1 513.1,233.3 511.0,232.3 C508.9,231.3 506.9,229.9 504.8,228.5 C502.7,227.1 500.7,225.2 498.6,223.6 C496.5,221.9 494.5,220.1 492.4,218.6 C490.3,217.1 488.3,215.5 486.2,214.3 C484.1,213.1 482.7,212.4 480.0,211.2 C477.3,210.0 472.9,208.1 469.8,206.9 C466.7,205.7 464.5,205.0 461.5,204.2 C458.5,203.4 454.0,202.9 451.9,202.3 C449.8,201.7 449.3,201.1 448.8,200.8" stroke="#f0f"/>
<path d="M448.8,203.8 C449.1,203.2 449.6,201.5 450.3,200.5 C451.0,199.5 451.9,198.8 452.9,198.0 C453.8,197.2 454.8,196.3 456.0,195.6 C457.2,194.8 458.7,194.1 460.0,193.5 C461.3,192.9 461.7,192.8 464.0,192.2 C466.3,191.6 471.3,190.5 474.0,189.9 C476.7,189.3 475.7,189.4 480.0,188.7 C484.3,188.0 493.3,186.5 500.0,185.7 C506.7,184.9 513.3,184.5 520.0,184.0 C526.7,183.5 535.0,182.9 540.0,182.6 C545.0,182.3 544.7,182.2 550.0,182.0 C555.3,181.8 567.0,181.6 572.0,181.5 C577.0,181.4 577.0,181.5 580.0,181.3 C583.0,181.1 586.7,180.8 590.0,180.5 C593.3,180.2 597.7,179.9 600.0,179.6 C602.3,179.3 602.8,179.1 604.0,178.5 C605.2,177.9 606.2,177.2 607.0,176.0 C607.8,174.8 608.0,173.2 608.5,171.0 C609.0,168.8 609.1,166.8 609.7,163.0 C610.4,159.2 611.8,151.8 612.4,148.0 C613.0,144.2 612.8,143.8 613.1,140.0 C613.4,136.2 613.9,130.0 614.3,125.0 C614.6,120.0 614.8,117.0 615.2,110.0 C615.6,103.0 616.1,91.1 616.6,83.1 C617.1,75.1 617.6,67.5 618.0,62.0 C618.4,56.5 618.5,54.8 619.0,50.0 C619.5,45.2 620.2,37.8 620.7,33.1 C621.2,28.4 621.8,24.8 622.3,22.0 C622.8,19.2 623.2,18.4 624.0,16.5 C624.8,14.6 626.2,12.3 627.3,10.5 C628.4,8.7 629.7,7.1 630.6,5.5 C631.5,3.9 632.3,2.8 632.7,1.0 C633.1,-0.8 632.1,-4.0 633.0,-5.0 C633.9,-6.0 636.9,-5.8 638.0,-5.0 C639.1,-4.2 639.1,-3.3 639.7,0.0 C640.3,3.3 640.8,9.8 641.5,15.0 C642.2,20.2 643.1,25.2 644.0,31.0 C644.9,36.8 646.3,45.3 647.1,50.0 C647.9,54.7 648.2,55.7 649.0,59.0 C649.8,62.3 650.4,65.7 651.6,70.0 C652.9,74.3 654.6,79.7 656.5,84.9 C658.4,90.1 661.3,97.5 663.1,101.4 C664.9,105.3 665.8,106.0 667.5,108.5 C669.2,111.0 671.5,114.1 673.1,116.3 C674.7,118.5 675.4,119.2 677.0,121.5 C678.6,123.8 680.9,127.1 683.0,129.9 C685.1,132.7 688.0,136.0 689.6,138.2 C691.2,140.4 692.1,141.5 692.9,143.1 C693.7,144.7 694.2,147.2 694.5,148.0 C694.5,149.4 694.9,153.2 694.5,156.2 C694.1,159.2 693.2,163.2 692.0,166.1 C690.8,169.0 689.6,171.4 687.1,173.5 C684.6,175.6 680.9,177.0 677.2,178.5 C673.5,180.0 669.3,181.2 664.8,182.5 C660.3,183.8 655.5,184.4 650.0,186.5 C644.5,188.6 638.1,192.2 632.0,194.8 C625.9,197.4 618.3,200.2 613.5,202.2 C608.7,204.2 605.5,205.6 603.0,206.8 C600.5,208.1 599.9,208.8 598.6,209.7 C597.3,210.6 596.0,211.5 595.0,212.5 C594.0,213.5 593.5,213.6 592.4,215.5 C591.3,217.4 589.8,221.1 588.5,224.0 C587.2,226.9 585.7,229.5 584.8,233.0 C583.9,236.5 583.7,241.6 583.0,245.0 C582.3,248.4 581.5,250.5 580.5,253.5 C579.5,256.5 578.6,259.4 577.2,263.2 C575.8,267.0 573.5,273.5 572.3,276.4 C571.1,279.3 570.7,279.7 570.0,280.8 C569.3,281.9 569.0,282.5 568.1,283.0 C567.2,283.5 565.9,284.2 564.8,283.9 C563.7,283.6 562.9,283.5 561.5,281.4 C560.1,279.3 558.1,275.6 556.5,271.5 C554.9,267.4 553.2,261.9 551.6,256.6 C550.0,251.4 547.7,243.4 546.6,240.0 C545.5,236.6 545.5,238.1 544.8,236.4 C544.1,234.7 543.0,231.6 542.3,230.0 C541.6,228.4 541.1,227.6 540.5,226.6 C539.9,225.6 539.3,224.5 538.7,224.2 C538.1,223.8 537.5,224.0 537.0,224.5 C536.5,225.0 536.0,226.1 535.5,227.0 C535.0,227.9 535.2,228.0 534.0,229.7 C532.8,231.4 529.8,235.6 528.2,237.2 C526.6,238.8 525.6,238.9 524.5,239.4 C523.4,239.9 522.8,239.8 521.6,239.9 C520.4,240.1 519.0,240.7 517.2,240.3 C515.4,240.0 513.1,238.8 511.0,237.8 C508.9,236.8 506.9,235.5 504.8,234.1 C502.7,232.7 500.7,230.9 498.6,229.2 C496.5,227.4 494.5,225.2 492.4,223.6 C490.3,221.9 488.3,220.5 486.2,219.3 C484.1,218.1 482.7,217.5 480.0,216.2 C477.3,214.9 472.9,212.8 469.8,211.5 C466.7,210.2 464.5,209.2 461.5,208.2 C458.5,207.2 453.7,206.0 451.6,205.3 C449.5,204.6 449.3,204.1 448.8,203.8" stroke="#008"/>
<path d="M449.0,206.8 C449.2,206.2 449.7,204.2 450.5,203.0 C451.3,201.8 452.9,200.4 454.0,199.3 C455.1,198.2 456.0,197.4 457.0,196.7 C458.0,196.0 458.8,195.5 460.0,195.0 C461.2,194.5 461.7,194.4 464.0,193.7 C466.3,193.0 471.3,191.6 474.0,190.9 C476.7,190.2 475.7,190.4 480.0,189.6 C484.3,188.8 493.3,186.8 500.0,185.9 C506.7,185.1 513.3,184.9 520.0,184.5 C526.7,184.1 535.0,183.6 540.0,183.3 C545.0,183.0 544.7,182.8 550.0,182.5 C555.3,182.2 567.0,182.2 572.0,181.8 C577.0,181.4 576.2,180.7 580.0,180.3 C583.8,179.9 591.2,179.7 594.5,179.4 C597.8,179.1 598.4,178.8 600.0,178.6 C601.6,178.4 602.9,178.4 604.1,178.0 C605.3,177.6 606.3,177.0 607.0,176.0 C607.7,175.0 607.9,174.1 608.4,172.2 C608.9,170.3 609.4,167.4 609.9,164.5 C610.4,161.6 610.9,157.6 611.4,154.8 C611.9,152.1 612.1,153.0 612.6,148.0 C613.1,143.0 613.9,131.3 614.3,125.0 C614.7,118.7 614.8,117.0 615.2,110.0 C615.6,103.0 616.1,91.1 616.6,83.1 C617.1,75.1 617.6,67.5 618.0,62.0 C618.4,56.5 619.0,50.3 619.0,50.0 C619.0,49.7 617.9,62.8 618.2,60.0 C618.5,57.2 620.1,39.4 620.7,33.1 C621.3,26.9 621.6,25.3 622.0,22.5 C622.4,19.7 622.2,18.6 623.1,16.5 C624.0,14.4 626.0,11.8 627.3,9.9 C628.5,8.0 629.7,6.5 630.6,5.0 C631.5,3.5 632.1,2.5 632.7,0.8 C633.3,-0.9 632.5,-4.0 634.0,-5.0 C635.5,-6.0 640.4,-5.8 642.0,-5.0 C643.6,-4.2 643.1,-3.7 643.8,0.0 C644.5,3.7 645.2,11.5 646.0,17.0 C646.8,22.5 647.6,27.5 648.5,33.0 C649.4,38.5 650.2,45.5 651.2,50.0 C652.2,54.5 653.6,56.9 654.5,60.0 C655.4,63.1 655.3,64.3 656.5,68.5 C657.7,72.7 659.6,79.7 661.5,84.9 C663.4,90.1 666.2,96.0 668.1,99.8 C670.0,103.6 671.4,105.0 673.0,107.5 C674.6,110.0 676.5,112.6 678.0,114.6 C679.5,116.6 680.5,117.8 682.1,119.5 C683.8,121.2 686.3,123.2 687.9,124.5 C689.5,125.8 690.5,126.3 691.5,127.5 C692.5,128.7 693.8,130.9 694.2,131.6 C694.2,132.7 694.2,135.3 694.0,138.0 C693.8,140.7 693.4,144.8 692.7,148.0 C692.0,151.2 691.1,154.0 689.6,157.0 C688.1,160.0 686.1,163.1 684.0,166.0 C681.9,168.9 680.2,171.8 677.0,174.5 C673.8,177.2 669.5,179.8 665.0,182.0 C660.5,184.2 654.9,185.9 650.0,188.0 C645.1,190.1 641.5,192.3 635.8,194.8 C630.1,197.3 621.0,200.7 615.9,202.8 C610.8,204.9 607.5,206.2 605.0,207.3 C602.5,208.5 602.4,208.8 601.1,209.7 C599.8,210.6 598.1,211.5 597.0,212.5 C595.9,213.5 595.5,213.6 594.3,215.5 C593.1,217.4 591.3,221.2 590.0,224.0 C588.7,226.8 587.2,228.9 586.4,232.1 C585.6,235.3 585.8,239.5 585.0,243.3 C584.2,247.1 582.8,250.5 581.4,254.9 C580.0,259.3 578.1,265.1 576.4,269.8 C574.7,274.5 572.6,279.9 571.4,283.0 C570.2,286.1 569.7,286.9 569.0,288.2 C568.3,289.4 568.1,289.9 567.3,290.5 C566.5,291.1 565.1,292.2 564.0,291.8 C562.9,291.4 562.1,290.6 560.7,288.0 C559.3,285.4 557.5,281.4 555.7,276.4 C553.9,271.4 551.4,263.0 549.9,258.2 C548.4,253.4 547.5,250.5 546.5,247.5 C545.5,244.5 544.7,242.4 544.0,240.2 C543.3,238.0 542.8,236.1 542.3,234.5 C541.8,232.9 541.3,231.6 540.7,230.6 C540.1,229.6 539.3,228.9 538.8,228.5 C538.2,228.1 537.9,228.0 537.4,228.3 C536.9,228.6 536.3,229.6 535.7,230.5 C535.1,231.4 535.2,232.1 534.0,233.9 C532.8,235.7 529.8,239.6 528.2,241.3 C526.6,243.0 525.6,243.7 524.5,244.3 C523.4,244.9 522.8,244.8 521.6,244.9 C520.4,245.0 519.0,245.2 517.2,244.9 C515.4,244.6 513.1,243.8 511.0,242.8 C508.9,241.8 506.9,240.4 504.8,239.1 C502.7,237.8 500.7,236.2 498.6,234.7 C496.5,233.1 494.5,231.4 492.4,229.8 C490.3,228.2 488.3,226.8 486.2,225.4 C484.1,224.1 482.7,223.3 480.0,221.7 C477.3,220.1 472.9,217.7 469.8,216.0 C466.7,214.3 464.1,213.0 461.5,211.8 C458.9,210.7 456.0,209.9 453.9,209.1 C451.8,208.3 449.8,207.2 449.0,206.8" stroke="#080"/>
<rect x="471.3" y="210.3" width="3.4" height="4.6" fill="#fff" stroke="none"/><rect x="471.3" y="215.3" width="3.4" height="4.8" fill="#fff" stroke="none"/></g></g>
<text x="44.5" y="52.1" class="tl" text-anchor="end">0.4</text>
<text x="44.5" y="119.1" class="tl" text-anchor="end">0.2</text>
<text x="44.5" y="186.1" class="tl" text-anchor="end">0.0</text>
<text x="44.5" y="253.1" class="tl" text-anchor="end"><tspan letter-spacing="0.3">-</tspan>0.2</text>
<text x="44.5" y="320.1" class="tl" text-anchor="end"><tspan letter-spacing="0.3">-</tspan>0.4</text>
<text x="413.5" y="52.1" class="tl" text-anchor="end">0.6</text>
<text x="413.5" y="119.0" class="tl" text-anchor="end">0.3</text>
<text x="413.5" y="185.8" class="tl" text-anchor="end">0.0</text>
<text x="413.5" y="252.6" class="tl" text-anchor="end"><tspan letter-spacing="0.3">-</tspan>0.3</text>
<text x="413.5" y="319.5" class="tl" text-anchor="end"><tspan letter-spacing="0.3">-</tspan>0.6</text>
<text x="80.4" y="336" class="tl" text-anchor="middle"><tspan class="h">1</tspan>.0</text>
<text x="449.9" y="336" class="tl" text-anchor="middle"><tspan class="h">1</tspan>.0</text>
<text x="141.8" y="336" class="tl" text-anchor="middle"><tspan class="h">1</tspan>.2</text>
<text x="511.2" y="336" class="tl" text-anchor="middle"><tspan class="h">1</tspan>.2</text>
<text x="203.2" y="336" class="tl" text-anchor="middle"><tspan class="h">1</tspan>.4</text>
<text x="572.5" y="336" class="tl" text-anchor="middle"><tspan class="h">1</tspan>.4</text>
<text x="264.7" y="336" class="tl" text-anchor="middle"><tspan class="h">1</tspan>.6</text>
<text x="633.8" y="336" class="tl" text-anchor="middle"><tspan class="h">1</tspan>.6</text>
<text x="326.1" y="336" class="tl" text-anchor="middle"><tspan class="h">1</tspan>.8</text>
<text x="695.1" y="336" class="tl" text-anchor="middle"><tspan class="h">1</tspan>.8</text>
<g stroke-width="1.3">
<line x1="65.5" y1="83" x2="89.5" y2="83" stroke="#000"/>
<line x1="65.5" y1="105.3" x2="89.5" y2="105.3" stroke="#f00"/>
<line x1="65.5" y1="127.6" x2="89.5" y2="127.6" stroke="#00f"/>
<line x1="425" y1="40.3" x2="449.6" y2="40.3" stroke="#000"/>
<line x1="425" y1="57.7" x2="449.6" y2="57.7" stroke="#f00"/>
<line x1="425" y1="75.2" x2="449.6" y2="75.2" stroke="#0f0"/>
<line x1="425" y1="92.6" x2="449.6" y2="92.6" stroke="#22f"/>
<line x1="425" y1="110.0" x2="449.6" y2="110.0" stroke="#f0f"/>
<line x1="425" y1="127.5" x2="449.6" y2="127.5" stroke="#008"/>
<line x1="425" y1="144.9" x2="449.6" y2="144.9" stroke="#080"/>
</g>
<g font-size="14" letter-spacing="-1.65">
<text x="90.4" y="88.2"><tspan font-size="11.5">δ</tspan><tspan dx="2.0">-MnO</tspan><tspan font-size="9" dx="-2.4" dy="5.3">2</tspan></text>
<text x="90.4" y="110.5"><tspan font-size="11.5">δ</tspan><tspan dx="2.0">-MnO</tspan><tspan font-size="9" dx="-2.4" dy="5.3">2</tspan><tspan dx="2.8" dy="-5.3">/PEDOT</tspan></text>
<text x="90.4" y="132.8"><tspan font-size="11.5">δ</tspan><tspan dx="2.0">-MnO</tspan><tspan font-size="9" dx="-2.4" dy="5.3">2</tspan><tspan dx="2.8" dy="-5.3" letter-spacing="-1.45">/PEDOT:PSS</tspan></text>
</g>
<text x="423.1" y="28.5" font-size="14" letter-spacing="-1.2">Cycleno.</text>
<g font-size="13.5" letter-spacing="-0.4">
<text x="451.4" y="45.2"><tspan class="h">1</tspan></text>
<text x="451.4" y="62.6">3</text>
<text x="451.4" y="80.1">5</text>
<text x="451.4" y="97.5"><tspan class="h">1</tspan>0</text>
<text x="451.4" y="114.9"><tspan class="h">1</tspan>5</text>
<text x="451.4" y="132.4">20</text>
<text x="451.4" y="149.8">27</text>
</g>
<text x="254.4" y="267.1" font-size="13" letter-spacing="-0.5">5cycle</text>
<text y="284.8" font-size="13.5"><tspan x="254.8">ν</tspan><tspan x="262.25">=</tspan><tspan x="271.5" letter-spacing="-1.15">0.<tspan class="h">1</tspan></tspan><tspan x="287.3" letter-spacing="-1.5">mV/s</tspan></text>
<text x="638" y="275.6" font-size="13.5" letter-spacing="-1.3">MnO<tspan font-size="7.5" dx="-1" dy="5.5">2</tspan><tspan dx="0.5" dy="-5.5" letter-spacing="-0.6">/PEDOT</tspan></text>
<text y="298.2" font-size="14"><tspan x="640.8">ν</tspan><tspan x="648.4">=</tspan><tspan x="657.25" letter-spacing="-1.15">0.<tspan class="h">1</tspan></tspan><tspan x="673.3" letter-spacing="-1.75">mV/s</tspan></text>
<g font-size="19.5">
<text y="361"><tspan x="154.9" font-style="italic">E</tspan><tspan>vs</tspan><tspan x="185">.</tspan><tspan x="188.8" letter-spacing="-0.9">Zn/Zn</tspan><tspan x="234.7" y="350.2" font-size="12">2</tspan><tspan x="241.0" y="349.6" font-size="9">+</tspan><tspan x="242.7" y="361">/V</tspan></text>
<text y="362.4"><tspan x="522.15" font-style="italic">E</tspan><tspan>vs</tspan><tspan x="552.25">.</tspan><tspan x="556.05" letter-spacing="-0.9">Zn/Zn</tspan><tspan x="602.0" y="351.6" font-size="12">2</tspan><tspan x="608.3" y="350.6" font-size="9">+</tspan><tspan x="609.9" y="362.4">/V</tspan></text>
</g>
<text transform="translate(17,190.5) rotate(-90)" font-size="20"><tspan font-style="italic">I</tspan>/A<tspan dy="-3">·</tspan><tspan dy="3">g</tspan><tspan font-size="11" dx="0.8" dy="-9.1">-<tspan class="h">1</tspan></tspan></text>
<text transform="translate(384.4,180.8) rotate(-90)" font-size="19"><tspan font-style="italic">I</tspan>/mA</text>
<polygon class="one" points="76.89,336.00 78.12,336.00 78.12,326.22 77.32,326.22 77.18,326.53 76.80,327.04 76.26,327.56 75.57,328.04 74.89,328.45 74.43,328.65 74.43,329.85 75.10,329.54 75.78,329.13 76.33,328.72 76.89,328.21"/><polygon class="one" points="446.39,336.00 447.62,336.00 447.62,326.22 446.82,326.22 446.68,326.53 446.30,327.04 445.76,327.56 445.07,328.04 444.39,328.45 443.93,328.65 443.93,329.85 444.60,329.54 445.28,329.13 445.83,328.72 446.39,328.21"/><polygon class="one" points="138.29,336.00 139.52,336.00 139.52,326.22 138.72,326.22 138.58,326.53 138.20,327.04 137.66,327.56 136.97,328.04 136.29,328.45 135.83,328.65 135.83,329.85 136.50,329.54 137.18,329.13 137.73,328.72 138.29,328.21"/><polygon class="one" points="507.69,336.00 508.92,336.00 508.92,326.22 508.12,326.22 507.98,326.53 507.60,327.04 507.06,327.56 506.37,328.04 505.69,328.45 505.23,328.65 505.23,329.85 505.90,329.54 506.58,329.13 507.13,328.72 507.69,328.21"/><polygon class="one" points="199.69,336.00 200.92,336.00 200.92,326.22 200.12,326.22 199.98,326.53 199.60,327.04 199.06,327.56 198.37,328.04 197.69,328.45 197.23,328.65 197.23,329.85 197.90,329.54 198.58,329.13 199.13,328.72 199.69,328.21"/><polygon class="one" points="568.99,336.00 570.22,336.00 570.22,326.22 569.42,326.22 569.28,326.53 568.90,327.04 568.36,327.56 567.67,328.04 566.99,328.45 566.53,328.65 566.53,329.85 567.20,329.54 567.88,329.13 568.43,328.72 568.99,328.21"/><polygon class="one" points="261.19,336.00 262.42,336.00 262.42,326.22 261.62,326.22 261.48,326.53 261.10,327.04 260.56,327.56 259.87,328.04 259.19,328.45 258.73,328.65 258.73,329.85 259.40,329.54 260.08,329.13 260.63,328.72 261.19,328.21"/><polygon class="one" points="630.29,336.00 631.52,336.00 631.52,326.22 630.72,326.22 630.58,326.53 630.20,327.04 629.66,327.56 628.97,328.04 628.29,328.45 627.83,328.65 627.83,329.85 628.50,329.54 629.18,329.13 629.73,328.72 630.29,328.21"/><polygon class="one" points="322.59,336.00 323.82,336.00 323.82,326.22 323.02,326.22 322.88,326.53 322.50,327.04 321.96,327.56 321.27,328.04 320.59,328.45 320.13,328.65 320.13,329.85 320.80,329.54 321.48,329.13 322.03,328.72 322.59,328.21"/><polygon class="one" points="691.59,336.00 692.82,336.00 692.82,326.22 692.02,326.22 691.88,326.53 691.50,327.04 690.96,327.56 690.27,328.04 689.59,328.45 689.13,328.65 689.13,329.85 689.80,329.54 690.48,329.13 691.03,328.72 691.59,328.21"/><polygon class="one" points="455.24,45.20 456.43,45.20 456.43,35.77 455.66,35.77 455.52,36.07 455.16,36.56 454.63,37.06 453.97,37.52 453.31,37.92 452.87,38.11 452.87,39.27 453.51,38.97 454.17,38.58 454.70,38.18 455.24,37.69"/><polygon class="one" points="455.24,97.50 456.43,97.50 456.43,88.07 455.66,88.07 455.52,88.37 455.16,88.86 454.63,89.36 453.97,89.82 453.31,90.22 452.87,90.41 452.87,91.57 453.51,91.27 454.17,90.88 454.70,90.48 455.24,89.99"/><polygon class="one" points="455.24,114.90 456.43,114.90 456.43,105.47 455.66,105.47 455.52,105.77 455.16,106.26 454.63,106.76 453.97,107.22 453.31,107.62 452.87,107.81 452.87,108.97 453.51,108.67 454.17,108.28 454.70,107.88 455.24,107.39"/><polygon class="one" points="284.31,284.80 285.50,284.80 285.50,275.37 284.73,275.37 284.59,275.67 284.23,276.16 283.70,276.66 283.04,277.12 282.38,277.52 281.94,277.71 281.94,278.87 282.58,278.57 283.24,278.18 283.76,277.78 284.31,277.29"/><polygon class="one" points="670.63,298.20 671.86,298.20 671.86,288.42 671.06,288.42 670.91,288.73 670.54,289.24 669.99,289.76 669.31,290.24 668.62,290.65 668.17,290.85 668.17,292.05 668.83,291.74 669.51,291.33 670.06,290.92 670.63,290.41"/><polygon class="one" points="49.87,-9.10 50.84,-9.10 50.84,-16.78 50.21,-16.78 50.09,-16.54 49.80,-16.14 49.37,-15.73 48.83,-15.36 48.30,-15.04 47.94,-14.87 47.94,-13.93 48.46,-14.18 48.99,-14.50 49.42,-14.82 49.87,-15.22" transform="translate(17,190.5) rotate(-90)"/>
</svg>
</body></html>
